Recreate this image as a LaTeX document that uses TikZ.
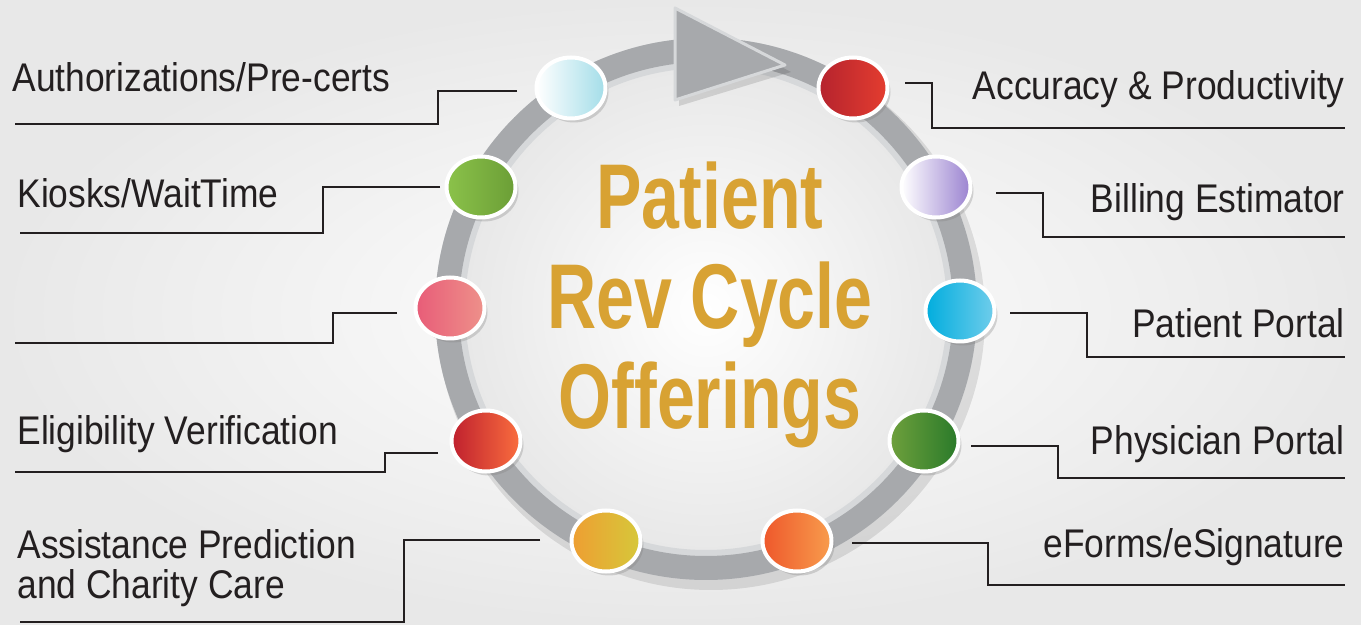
\documentclass[tikz,border=0pt]{standalone}
\usepackage{fontspec}
\usetikzlibrary{shapes.geometric,shadows}
\newfontfamily\labfont[FakeStretch=0.885]{Liberation Sans}
\newfontfamily\ttlfont[FakeStretch=0.74]{Liberation Sans}
\definecolor{ringgray}{HTML}{A7A9AC}
\definecolor{ringlight}{HTML}{D6D8DA}
\definecolor{ink}{HTML}{231F20}
\definecolor{goldA}{HTML}{D8A233}
\definecolor{goldD}{HTML}{8C6516}
\definecolor{cyA}{HTML}{FFFFFF}\definecolor{cyB}{HTML}{A3DDE8}
\definecolor{rdA}{HTML}{B5232E}\definecolor{rdB}{HTML}{E43D2F}
\definecolor{grA}{HTML}{8BC24A}\definecolor{grB}{HTML}{6B9E36}
\definecolor{lvA}{HTML}{FFFFFF}\definecolor{lvB}{HTML}{9A82D0}
\definecolor{pkA}{HTML}{E85C78}\definecolor{pkB}{HTML}{EE918A}
\definecolor{blA}{HTML}{00ADDE}\definecolor{blB}{HTML}{70CDEB}
\definecolor{elA}{HTML}{BF202E}\definecolor{elB}{HTML}{FA6E3E}
\definecolor{phA}{HTML}{6EA03C}\definecolor{phB}{HTML}{2A7A2A}
\definecolor{asA}{HTML}{EE9E32}\definecolor{asB}{HTML}{D6C83A}
\definecolor{efA}{HTML}{EE572B}\definecolor{efB}{HTML}{F89D4D}
\begin{document}
\begin{tikzpicture}[x=0.5pt,y=-0.5pt,
  bub/.style 2 args={ellipse, minimum width=34.5pt, minimum height=30.5pt, inner sep=0pt,
    draw=white, line width=2pt, left color=#1, right color=#2,
    drop shadow={shadow xshift=1.5pt, shadow yshift=-2pt, opacity=0.3}},
  lab/.style={font=\labfont\fontsize{20pt}{20pt}\selectfont, text=ink, inner sep=0pt},
  con/.style={draw=ink, line width=1.4pt},
  ttl/.style={font=\ttlfont\bfseries\fontsize{46pt}{50pt}\selectfont, inner sep=0pt, align=center, anchor=north}]
\useasboundingbox (0,0) rectangle (1361,625);
\shade[inner color=white, outer color=black!9] (0,0) rectangle (1361,625);
% ring
\fill[black, opacity=0.10] (711,316) circle (274);
\shade[inner color=white, outer color=black!9] (706,309) circle (242);
\draw[ringlight, line width=15pt] (706,309) circle (256);
\draw[ringgray, line width=12pt] (706,309) circle (259);
% arrow head
\fill[black, opacity=0.12] (680,14) -- (791,72) -- (679,106) -- cycle;
\filldraw[fill=ringgray, draw=ringlight, line width=1.5pt, line join=round] (675,8) -- (785,65) -- (675,100) -- cycle;
% title
\node[ttl, text=goldA] (title) at (710,161) {Patient\\Rev Cycle\\Offerings};
% bubbles
\node[bub={cyA}{cyB}] (b1) at (571,88) {};
\node[bub={rdA}{rdB}] (b2) at (853,88) {};
\node[bub={grA}{grB}] (b3) at (481,187) {};
\node[bub={lvA}{lvB}] (b4) at (936,187) {};
\node[bub={pkA}{pkB}] (b5) at (450,308) {};
\node[bub={blA}{blB}] (b6) at (960,311) {};
\node[bub={elA}{elB}] (b7) at (486,441) {};
\node[bub={phA}{phB}] (b8) at (924,441) {};
\node[bub={asA}{asB}] (b9) at (606,541) {};
\node[bub={efA}{efB}] (b10) at (797,541) {};
% labels
\node[lab, anchor=base west] (t1) at (12,92) {Authorizations/Pre-certs};
\node[lab, anchor=base west] (t3) at (17,208) {Kiosks/WaitTime};
\node[lab, anchor=base west] (t7) at (17,445) {Eligibility Verification};
\node[lab, anchor=north west, align=left] (t9) at (17,529) {Assistance Prediction\\and Charity Care};
\node[lab, anchor=base east] (t2) at (1345,100) {Accuracy \& Productivity};
\node[lab, anchor=base east] (t4) at (1345,213) {Billing Estimator};
\node[lab, anchor=base east] (t6) at (1345,338) {Patient Portal};
\node[lab, anchor=base east] (t8) at (1345,455) {Physician Portal};
\node[lab, anchor=base east] (t10) at (1345,558) {eForms/eSignature};
% connectors
\coordinate (c1s) at (517,91);  \coordinate (c1e) at (15,124);
\coordinate (c3s) at (440,187); \coordinate (c3e) at (20,233);
\coordinate (c5s) at (397,313); \coordinate (c5e) at (15,343);
\coordinate (c7s) at (438,453); \coordinate (c7e) at (15,472);
\coordinate (c9s) at (540,540); \coordinate (c9e) at (20,622);
\coordinate (c2s) at (905,83);  \coordinate (c2e) at (1345,128);
\coordinate (c4s) at (996,193); \coordinate (c4e) at (1345,237);
\coordinate (c6s) at (1010,313);\coordinate (c6e) at (1345,357);
\coordinate (c8s) at (971,446); \coordinate (c8e) at (1345,478);
\coordinate (c10s) at (852,543);\coordinate (c10e) at (1345,585);
\draw[con] (c1s) -- (438,91) |- (c1e);
\draw[con] (c3s) -- (323,187) |- (c3e);
\draw[con] (c5s) -- (333,313) |- (c5e);
\draw[con] (c7s) -- (385,453) |- (c7e);
\draw[con] (c9s) -- (404,540) |- (c9e);
\draw[con] (c2s) -- (932,83) |- (c2e);
\draw[con] (c4s) -- (1043,193) |- (c4e);
\draw[con] (c6s) -- (1087,313) |- (c6e);
\draw[con] (c8s) -- (1058,446) |- (c8e);
\draw[con] (c10s) -- (988,543) |- (c10e);
\end{tikzpicture}
\end{document}
